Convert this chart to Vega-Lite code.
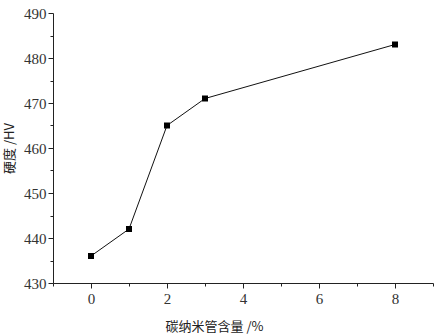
{
  "$schema": "https://vega.github.io/schema/vega-lite/v6.json",
  "autosize": "none",
  "width": 380,
  "height": 270,
  "padding": {"left": 53, "top": 13, "right": 11, "bottom": 53},
  "background": "white",
  "data": {"values": [
    {"content": 0, "hardness": 436},
    {"content": 1, "hardness": 442},
    {"content": 2, "hardness": 465},
    {"content": 3, "hardness": 471},
    {"content": 8, "hardness": 483}
  ]},
  "config": {
    "view": {"stroke": null},
    "axis": {
      "domainColor": "#222",
      "tickColor": "#222",
      "grid": false,
      "labelFont": "Liberation Serif",
      "labelFontSize": 15,
      "labelColor": "#333",
      "titleFont": "Noto Sans CJK SC",
      "titleFontSize": 13,
      "titleFontWeight": "normal",
      "titleColor": "#222"
    }
  },
  "encoding": {
    "x": {
      "field": "content", "type": "quantitative",
      "scale": {"domain": [-1, 9], "nice": false, "zero": false},
      "axis": {
        "title": "碳纳米管含量 /%",
        "values": [-1, 0, 1, 2, 3, 4, 5, 6, 7, 8, 9],
        "labelExpr": "datum.value % 2 === 0 ? datum.label : ''",
        "tickSize": {"condition": {"test": "datum.value % 2 !== 0", "value": 3}, "value": 5},
        "labelPadding": 3,
        "titleX": 161,
        "titlePadding": 14
      }
    },
    "y": {
      "field": "hardness", "type": "quantitative",
      "scale": {"domain": [430, 490], "nice": false, "zero": false},
      "axis": {
        "title": "硬度 /HV",
        "values": [430, 435, 440, 445, 450, 455, 460, 465, 470, 475, 480, 485, 490],
        "labelExpr": "datum.value % 10 === 0 ? datum.label : ''",
        "tickSize": {"condition": {"test": "datum.value % 10 !== 0", "value": 3}, "value": 5},
        "labelPadding": 2,
        "titlePadding": 7
      }
    }
  },
  "layer": [
    {"mark": {"type": "line", "color": "#111", "strokeWidth": 1}},
    {"mark": {"type": "point", "shape": "square", "filled": true, "color": "#000", "opacity": 1, "size": 36}}
  ]
}
